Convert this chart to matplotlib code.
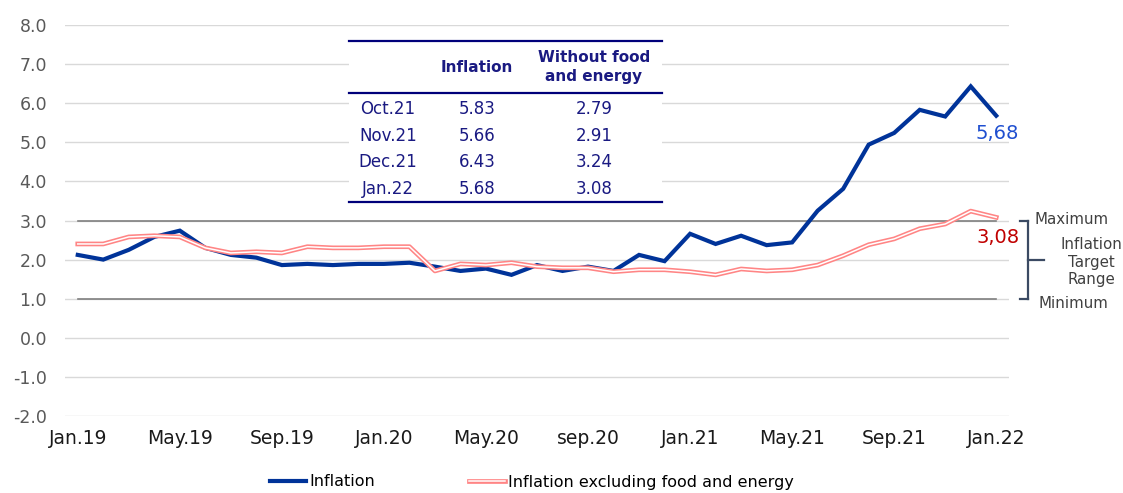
import numpy as np
import matplotlib
matplotlib.use("Agg")
import matplotlib.pyplot as plt
import matplotlib.patheffects as pe
import matplotlib.transforms as mtransforms

# ---------------- data ----------------
months = ["Jan.19", "Feb.19", "Mar.19", "Apr.19", "May.19", "Jun.19", "Jul.19", "Aug.19",
          "Sep.19", "Oct.19", "Nov.19", "Dec.19", "Jan.20", "Feb.20", "Mar.20", "Apr.20",
          "May.20", "Jun.20", "Jul.20", "Aug.20", "sep.20", "Oct.20", "Nov.20", "Dec.20",
          "Jan.21", "Feb.21", "Mar.21", "Apr.21", "May.21", "Jun.21", "Jul.21", "Aug.21",
          "Sep.21", "Oct.21", "Nov.21", "Dec.21", "Jan.22"]

inflation = [2.12, 2.00, 2.25, 2.58, 2.74, 2.30, 2.12, 2.05, 1.86, 1.89, 1.86, 1.89,
             1.89, 1.92, 1.82, 1.71, 1.77, 1.61, 1.86, 1.71, 1.82, 1.71, 2.12, 1.96,
             2.66, 2.40, 2.61, 2.37, 2.44, 3.25, 3.81, 4.94, 5.24, 5.83, 5.66, 6.43, 5.68]

core = [2.40, 2.40, 2.58, 2.61, 2.58, 2.30, 2.17, 2.20, 2.17, 2.33, 2.30, 2.30,
        2.33, 2.33, 1.71, 1.89, 1.86, 1.92, 1.82, 1.79, 1.79, 1.69, 1.74, 1.74,
        1.69, 1.61, 1.76, 1.71, 1.74, 1.86, 2.10, 2.38, 2.53, 2.79, 2.91, 3.24, 3.08]

target_max = 3.0
target_min = 1.0

xtick_labels = ["Jan.19", "May.19", "Sep.19", "Jan.20", "May.20", "sep.20",
                "Jan.21", "May.21", "Sep.21", "Jan.22"]
yticks = [-2, -1, 0, 1, 2, 3, 4, 5, 6, 7, 8]

table_rows = ["Oct.21", "Nov.21", "Dec.21", "Jan.22"]
table_inflation = [5.83, 5.66, 6.43, 5.68]
table_core = [2.79, 2.91, 3.24, 3.08]
table_headers = ["Inflation", "Without food\nand energy"]

series_names = ["Inflation", "Inflation excluding food and energy"]
range_labels = ["Maximum", "Inflation\nTarget\nRange", "Minimum"]

# ---------------- style ----------------
W, H = 1123, 493
BLUE = "#003399"
PINK = "#FF8585"
NAVY = "#1a1a82"
GRID = "#D9D9D9"
TGT = "#808080"
plt.rcParams["font.family"] = ["DejaVu Sans"]

def fx(px):
    return px / W

def fy(py):
    return 1 - py / H

fig = plt.figure(figsize=(W / 100, H / 100), dpi=100)
ax = fig.add_axes([fx(65), fy(416), (1009 - 65) / W, (416 - 25) / H])

x = np.arange(len(months))
ax.set_xlim(-0.5, len(months) - 0.5)
ax.set_ylim(-2, 8)

for s in ax.spines.values():
    s.set_visible(False)

ax.set_yticks(yticks)
ax.set_yticklabels([f"{v:.1f}" for v in yticks])
ax.yaxis.grid(True, color=GRID, lw=1.0)
ax.set_axisbelow(True)
ax.tick_params(axis="y", length=0, pad=13, labelsize=12.5, labelcolor="#595959")

tick_pos = [months.index(m) for m in xtick_labels]
ax.set_xticks(tick_pos)
ax.set_xticklabels(xtick_labels)
ax.tick_params(axis="x", length=0, pad=9, labelsize=13.5, labelcolor="#1a1a1a")

# target range lines
ax.plot([x[0], x[-1]], [target_max, target_max], color=TGT, lw=1.2, zorder=1.5)
ax.plot([x[0], x[-1]], [target_min, target_min], color=TGT, lw=1.2, zorder=1.5)

# series
l1, = ax.plot(x, inflation, color=BLUE, lw=3.0, solid_joinstyle="miter", zorder=3,
              label=series_names[0])
l2, = ax.plot(x, core, color="white", lw=1.1, zorder=4, label=series_names[1],
              path_effects=[pe.Stroke(linewidth=3.4, foreground=PINK), pe.Normal()])

# end labels
ax.annotate(f"{inflation[-1]:.2f}".replace(".", ","), xy=(x[-1], inflation[-1]),
            xytext=(1, -18), textcoords="offset pixels", ha="center", va="center",
            fontsize=14, color="#1f4fd0", zorder=5)
ax.annotate(f"{core[-1]:.2f}".replace(".", ","), xy=(x[-1], core[-1]),
            xytext=(2, -20), textcoords="offset pixels", ha="center", va="center",
            fontsize=14, color="#C00000", zorder=5)

# bracket for target range
bt = mtransforms.blended_transform_factory(fig.transFigure, ax.transData)
BR = "#3b4a63"
bx = fx(1028)
fig.add_artist(plt.Line2D([bx, bx], [target_min, target_max], transform=bt, color=BR, lw=1.6))
fig.add_artist(plt.Line2D([fx(1020), bx], [target_max, target_max], transform=bt, color=BR, lw=1.6))
fig.add_artist(plt.Line2D([fx(1020), bx], [target_min, target_min], transform=bt, color=BR, lw=1.6))
mid = (target_max + target_min) / 2
fig.add_artist(plt.Line2D([bx, fx(1044)], [mid, mid], transform=bt, color=BR, lw=1.6))

fig.text(fx(1035), fy(220), range_labels[0], ha="left", va="center", fontsize=10.8, color="#404040")
fig.text(fx(1091), fy(262), range_labels[1], ha="center", va="center", fontsize=10.8,
         color="#404040", linespacing=1.2)
fig.text(fx(1039), fy(303), range_labels[2], ha="left", va="center", fontsize=10.8, color="#404040")

# ---------------- table ----------------
tl, tr = 349, 662
fig.add_artist(plt.Rectangle((fx(tl), fy(202)), fx(tr) - fx(tl), fy(41) - fy(202),
                             transform=fig.transFigure, facecolor="white", edgecolor="none",
                             zorder=2))
for yy in (41, 93, 202):
    fig.add_artist(plt.Line2D([fx(tl), fx(tr)], [fy(yy), fy(yy)], transform=fig.transFigure,
                              color="#00007a", lw=1.6, zorder=3))

col_x = [388, 477, 594]
fig.text(fx(col_x[1]), fy(68), table_headers[0], ha="center", va="center", fontsize=11,
         fontweight="bold", color=NAVY, zorder=4)
fig.text(fx(col_x[2]), fy(67), table_headers[1], ha="center", va="center", fontsize=11,
         fontweight="bold", color=NAVY, linespacing=1.35, zorder=4)
row_y = [109, 136, 162, 189]
for r, ry in enumerate(row_y):
    fig.text(fx(col_x[0]), fy(ry), table_rows[r], ha="center", va="center", fontsize=12,
             color=NAVY, zorder=4)
    fig.text(fx(col_x[1]), fy(ry), f"{table_inflation[r]:.2f}", ha="center", va="center",
             fontsize=12, color=NAVY, zorder=4)
    fig.text(fx(col_x[2]), fy(ry), f"{table_core[r]:.2f}", ha="center", va="center",
             fontsize=12, color=NAVY, zorder=4)

# ---------------- legend ----------------
fig.legend(handles=[l1, l2], loc="center left", bbox_to_anchor=(fx(270), fy(482)),
           ncol=2, frameon=False, fontsize=11.5, handlelength=2.25, handletextpad=0.2,
           columnspacing=5.9, borderpad=0, borderaxespad=0)

fig.savefig("out.png", dpi=100)
